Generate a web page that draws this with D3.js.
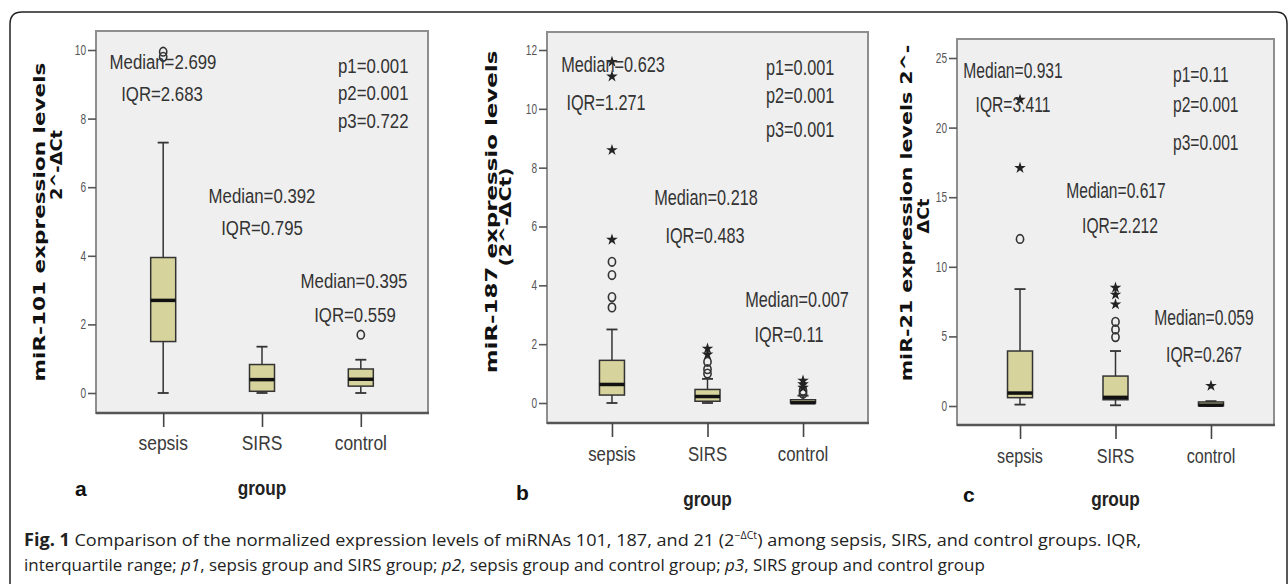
<!DOCTYPE html>
<html>
<head>
<meta charset="utf-8">
<script src="https://cdn.jsdelivr.net/npm/d3@7"></script>
<style>
  body { margin: 0; background: #fff; }
  svg { display: block; }
</style>
</head>
<body>
<svg id="fig" width="1288" height="584"></svg>
<script>
const categories = ["sepsis", "SIRS", "control"];

// each group: [lower whisker, q1, median, q3, upper whisker]
// miR-101
const statsA = [[0, 1.5, 2.7, 3.95, 7.3], [0, 0.05, 0.39, 0.83, 1.35], [0, 0.2, 0.4, 0.7, 0.97]];
const circlesA = [[9.95, 9.8], [], [1.7]];
const starsA = [[], [], []];
const ticksA = [0, 2, 4, 6, 8, 10];
const notesA = ["Median=2.699", "IQR=2.683", "Median=0.392", "IQR=0.795", "Median=0.395", "IQR=0.559"];
const pvalsA = ["p1=0.001", "p2=0.001", "p3=0.722"];

// miR-187
const statsB = [[0, 0.27, 0.63, 1.45, 2.5], [0, 0.06, 0.22, 0.46, 0.82], [0, 0, 0.007, 0.11, 0.25]];
const circlesB = [[3.25, 3.6, 4.35, 4.8], [1.0, 1.15, 1.4], [0.32, 0.42]];
const starsB = [[5.55, 8.6, 11.1, 11.6], [1.65, 1.85], [0.52, 0.64, 0.76]];
const ticksB = [0, 2, 4, 6, 8, 10, 12];
const notesB = ["Median=0.623", "IQR=1.271", "Median=0.218", "IQR=0.483", "Median=0.007", "IQR=0.11"];
const pvalsB = ["p1=0.001", "p2=0.001", "p3=0.001"];

// miR-21
const statsC = [[0.1, 0.6, 0.93, 3.95, 8.4], [0.05, 0.45, 0.62, 2.15, 3.95], [0, 0.02, 0.06, 0.29, 0.35]];
const circlesC = [[12.0], [4.95, 5.5, 6.05], []];
const starsC = [[17.1, 22.0], [7.3, 8.0, 8.5], [1.45]];
const ticksC = [0, 5, 10, 15, 20, 25];
const notesC = ["Median=0.931", "IQR=3.411", "Median=0.617", "IQR=2.212", "Median=0.059", "IQR=0.267"];
const pvalsC = ["p1=0.11", "p2=0.001", "p3=0.001"];

const yLabelsA = ["miR-101 expression levels", "2^-ΔCt"];
const yLabelsB = ["miR-187 expressio levels", "(2^-ΔCt)"];
const yLabelsC = ["miR-21 expression levels 2^-", "ΔCt"];
const letters = ["a", "b", "c"];

// layout (pixels) for the three panels
const panels = [
  { stats: statsA, circles: circlesA, stars: starsA, ticks: ticksA, notes: notesA, pvals: pvalsA, ylab: yLabelsA,
    box: [96, 31, 428, 413], yr: [393, 50], ymax: 10, pad: 0.68, fs: 21, sx: 0.80, catSx: 0.83, catY: 450,
    notePos: [[163, 69], [162, 101], [262, 203], [262, 235], [354, 288], [355, 322]], pX: 338, pY: [73, 100, 128],
    labPos: [[45, 222, 319], [62, 165, 70]], letter: [75, 496], groupY: 495 },
  { stats: statsB, circles: circlesB, stars: starsB, ticks: ticksB, notes: notesB, pvals: pvalsB, ylab: yLabelsB,
    box: [547, 32, 868, 423], yr: [403, 50], ymax: 12, pad: 0.68, fs: 22, sx: 0.74, catSx: 0.80, catY: 461,
    notePos: [[613, 72], [606, 110], [706, 205], [705, 243], [797, 307], [789, 342]], pX: 766, pY: [75, 103, 137],
    labPos: [[497, 212, 323], [511, 217, 99]], letter: [516, 500], groupY: 506 },
  { stats: statsC, circles: circlesC, stars: starsC, ticks: ticksC, notes: notesC, pvals: pvalsC, ylab: yLabelsC,
    box: [957, 39, 1274, 425], yr: [406, 58], ymax: 25, pad: 0.66, fs: 22, sx: 0.71, catSx: 0.77, catY: 463,
    notePos: [[1013, 78], [1013, 112], [1116, 198], [1120, 233], [1204, 325], [1204, 362]], pX: 1173, pY: [82, 112, 150],
    labPos: [[912, 213, 337], [929, 216, 35]], letter: [963, 502], groupY: 506 }
];

const svg = d3.select("#fig");
const NARROW = "'Liberation Sans', Arial, sans-serif";

// outer rounded frame, open at the bottom
svg.append("path")
  .attr("d", "M10,590 L10,24 Q10,12 22,12 L1276,12 Q1287,12 1287,24 L1287,590")
  .attr("fill", "none").attr("stroke", "#222").attr("stroke-width", 1.5);

function narrow(g, str, x, y, size, sx, anchor, fill, weight) {
  return g.append("text")
    .attr("transform", `translate(${x},${y}) scale(${sx},1)`)
    .attr("text-anchor", anchor || "middle")
    .attr("font-family", NARROW)
    .attr("font-size", size)
    .attr("font-weight", weight || "normal")
    .attr("fill", fill || "#333")
    .text(str);
}

panels.forEach(function(p, pi) {
  const g = svg.append("g");
  const [x0, y0, x1, y1] = p.box;

  const x = d3.scalePoint().domain(categories).range([x0, x1]).padding(p.pad);
  const y = d3.scaleLinear().domain([0, p.ymax]).range(p.yr);

  g.append("rect")
    .attr("x", x0).attr("y", y0).attr("width", x1 - x0).attr("height", y1 - y0)
    .attr("fill", "#efefef").attr("stroke", "#8e8e8e").attr("stroke-width", 2);
  g.append("line")
    .attr("x1", x0).attr("x2", x1 + 1).attr("y1", y1).attr("y2", y1)
    .attr("stroke", "#555").attr("stroke-width", 2.5);

  // y axis
  const ya = g.append("g").attr("transform", `translate(${x0},0)`)
    .call(d3.axisLeft(y).tickValues(p.ticks).tickSize(8).tickPadding(2));
  ya.select(".domain").remove();
  ya.selectAll("line").attr("stroke", "#555").attr("stroke-width", 1.6);
  ya.selectAll("text")
    .attr("font-family", NARROW).attr("font-size", 14).attr("fill", "#555")
    .attr("x", -10 / 0.72).attr("transform", "scale(0.72,1)");

  // x axis
  const xa = g.append("g").attr("transform", `translate(0,${y1})`)
    .call(d3.axisBottom(x).tickSize(14).tickPadding(0));
  xa.select(".domain").remove();
  xa.selectAll("line").attr("stroke", "#444").attr("stroke-width", 1.6);
  xa.selectAll("text").remove();
  categories.forEach(function(c) {
    narrow(g, c, x(c), p.catY, 21, p.catSx, "middle", "#3a3a3a");
  });

  // boxes
  const bw = 25, cap = 11;
  p.stats.forEach(function(s, i) {
    const cx = x(categories[i]);
    const [lo, q1, med, q3, hi] = s;
    g.append("line").attr("x1", cx).attr("x2", cx).attr("y1", y(q3)).attr("y2", y(hi))
      .attr("stroke", "#333").attr("stroke-width", 1.5);
    g.append("line").attr("x1", cx).attr("x2", cx).attr("y1", y(q1)).attr("y2", y(lo))
      .attr("stroke", "#333").attr("stroke-width", 1.5);
    [lo, hi].forEach(function(v) {
      g.append("line").attr("x1", cx - cap / 2).attr("x2", cx + cap / 2).attr("y1", y(v)).attr("y2", y(v))
        .attr("stroke", "#333").attr("stroke-width", 1.8);
    });
    g.append("rect")
      .attr("x", cx - bw / 2).attr("y", y(q3)).attr("width", bw).attr("height", Math.max(1, y(q1) - y(q3)))
      .attr("fill", "#d7d39c").attr("stroke", "#333").attr("stroke-width", 1.5);
    g.append("line").attr("x1", cx - bw / 2).attr("x2", cx + bw / 2).attr("y1", y(med)).attr("y2", y(med))
      .attr("stroke", "#111").attr("stroke-width", 3.5);

    p.circles[i].forEach(function(v) {
      g.append("ellipse").attr("cx", cx).attr("cy", y(v)).attr("rx", 3.6).attr("ry", 4.3)
        .attr("fill", "none").attr("stroke", "#333").attr("stroke-width", 1.6);
    });
    p.stars[i].forEach(function(v) {
      g.append("path").attr("d", d3.symbol(d3.symbolStar).size(42)())
        .attr("transform", `translate(${cx},${y(v)})`).attr("fill", "#222");
    });
  });

  // annotations
  p.notes.forEach(function(t, i) {
    narrow(g, t, p.notePos[i][0], p.notePos[i][1], p.fs, p.sx, "middle", "#333");
  });
  p.pvals.forEach(function(t, i) {
    narrow(g, t, p.pX, p.pY[i], p.fs, p.sx, "start", "#333");
  });

  // y label, two lines, rotated
  p.ylab.forEach(function(t, i) {
    const [lx, cy, len] = p.labPos[i];
    const tx = g.append("text")
      .attr("text-anchor", "middle")
      .attr("font-family", "'DejaVu Sans', sans-serif")
      .attr("font-weight", "bold")
      .attr("font-size", 16)
      .attr("fill", "#111")
      .text(t);
    const w = tx.node().getComputedTextLength();
    tx.attr("transform", `translate(${lx},${cy}) rotate(-90) scale(${len / w},1)`);
  });

  narrow(g, "group", (x0 + x1) / 2, p.groupY, 21, 0.82, "middle", "#222", "bold");

  g.append("text")
    .attr("x", p.letter[0]).attr("y", p.letter[1])
    .attr("font-family", "'Liberation Sans', Arial, sans-serif")
    .attr("font-weight", "bold").attr("font-size", 21).attr("fill", "#111")
    .text(letters[pi]);
});

// caption
const cap1 = svg.append("text").attr("font-family", "'Open Sans', sans-serif").attr("font-size", 17).attr("fill", "#222");
cap1.append("tspan").attr("font-weight", "bold").text("Fig. 1");
cap1.append("tspan").text(" Comparison of the normalized expression levels of miRNAs 101, 187, and 21 (2");
cap1.append("tspan").attr("font-size", 10).attr("dy", -7).text("−ΔCt");
cap1.append("tspan").attr("dy", 7).text(") among sepsis, SIRS, and control groups. IQR,");
const cap2 = svg.append("text").attr("font-family", "'Open Sans', sans-serif").attr("font-size", 17).attr("fill", "#222");
cap2.append("tspan").text("interquartile range; ");
cap2.append("tspan").attr("font-style", "italic").text("p1");
cap2.append("tspan").text(", sepsis group and SIRS group; ");
cap2.append("tspan").attr("font-style", "italic").text("p2");
cap2.append("tspan").text(", sepsis group and control group; ");
cap2.append("tspan").attr("font-style", "italic").text("p3");
cap2.append("tspan").text(", SIRS group and control group");

[[cap1, 546, 1118], [cap2, 571, 961]].forEach(function(c) {
  const w = c[0].node().getBBox().width;
  c[0].attr("transform", `translate(24,${c[1]}) scale(${c[2] / w},1)`);
});
</script>
</body>
</html>
